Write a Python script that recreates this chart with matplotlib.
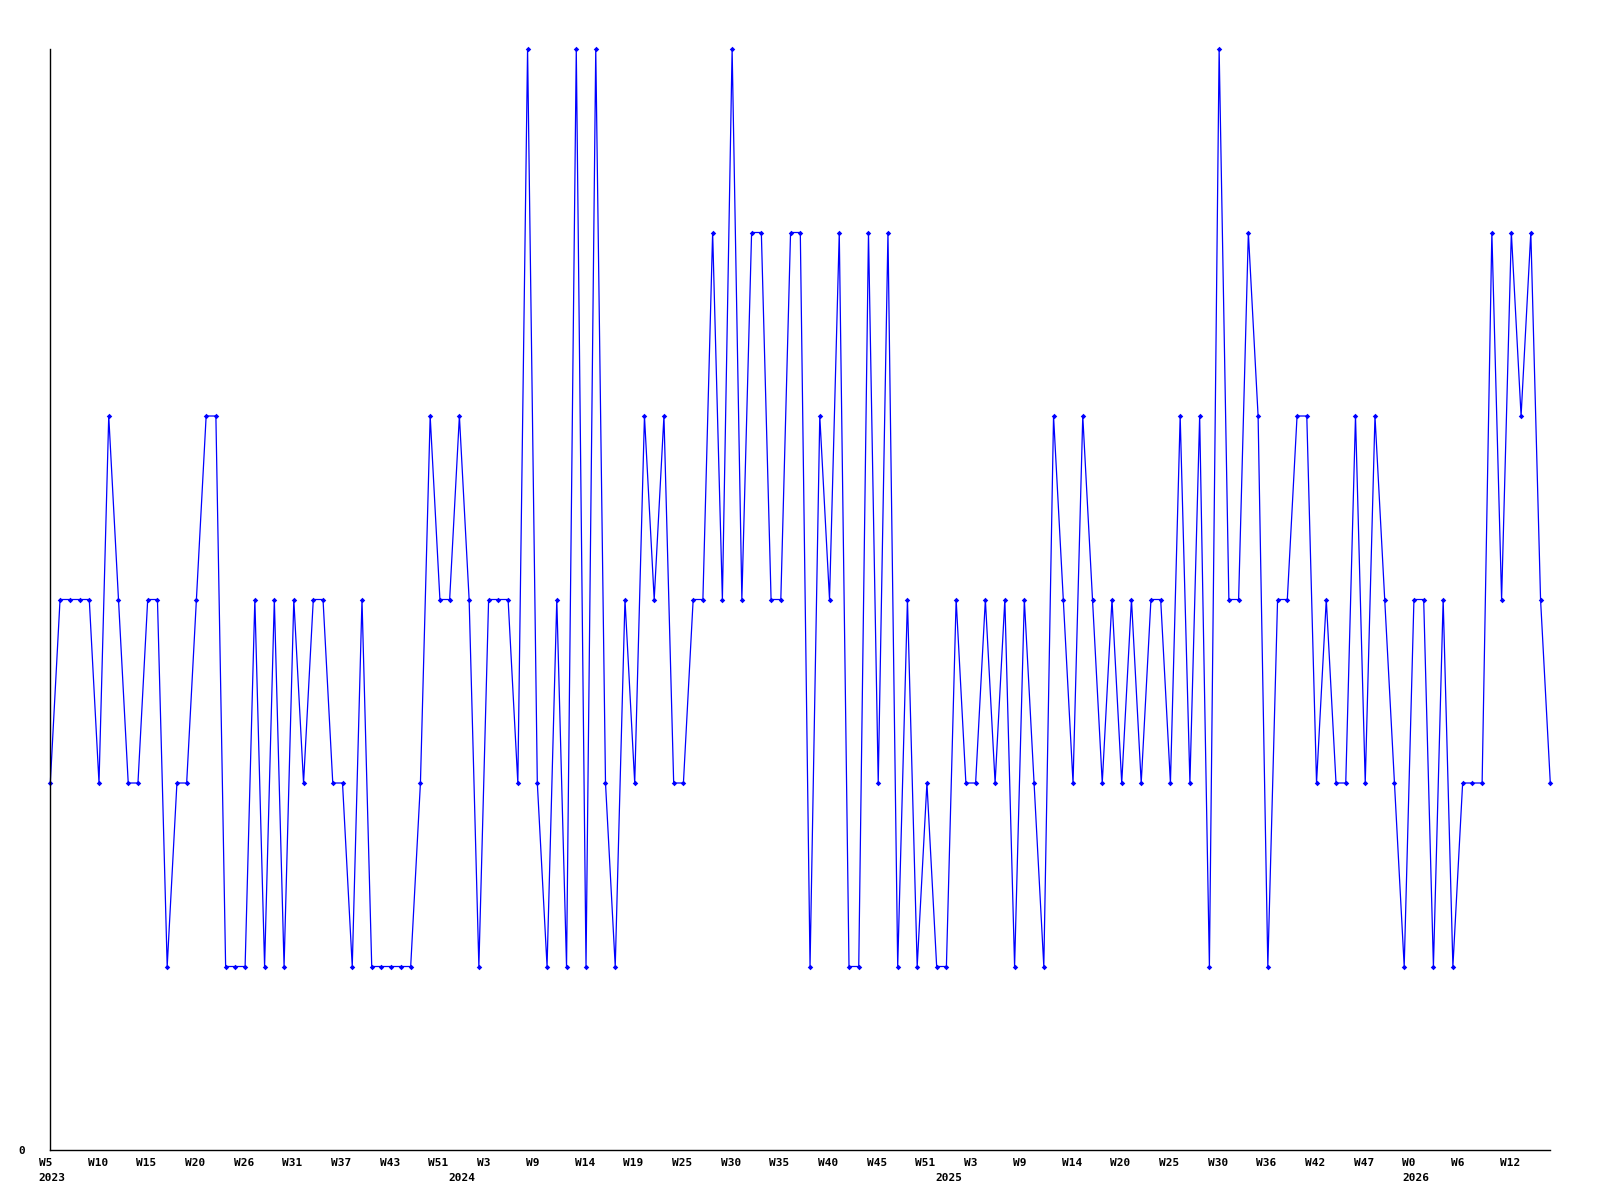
import matplotlib
matplotlib.use("Agg")
import matplotlib.pyplot as plt
from matplotlib.transforms import ScaledTranslation

# weekly values, one per point (2023 W5 .. 2026 W14)
values = [
    2, 3, 3, 3, 3, 2, 4, 3, 2, 2, 3, 3, 1, 2, 2, 3, 4, 4, 1, 1,
    1, 3, 1, 3, 1, 3, 2, 3, 3, 2, 2, 1, 3, 1, 1, 1, 1, 1, 2, 4,
    3, 3, 4, 3, 1, 3, 3, 3, 2, 6, 2, 1, 3, 1, 6, 1, 6, 2, 1, 3,
    2, 4, 3, 4, 2, 2, 3, 3, 5, 3, 6, 3, 5, 5, 3, 3, 5, 5, 1, 4,
    3, 5, 1, 1, 5, 2, 5, 1, 3, 1, 2, 1, 1, 3, 2, 2, 3, 2, 3, 1,
    3, 2, 1, 4, 3, 2, 4, 3, 2, 3, 2, 3, 2, 3, 3, 2, 4, 2, 4, 1,
    6, 3, 3, 5, 4, 1, 3, 3, 4, 4, 2, 3, 2, 2, 4, 2, 4, 3, 2, 1,
    3, 3, 1, 3, 1, 2, 2, 2, 5, 3, 5, 4, 5, 3, 2,
]

# week labels shown on every 5th point
week_labels = [
    "W5", "W10", "W15", "W20", "W26", "W31", "W37", "W43", "W51", "W3", "W9",
    "W14", "W19", "W25", "W30", "W35", "W40", "W45", "W51", "W3", "W9",
    "W14", "W20", "W25", "W30", "W36", "W42", "W47", "W0", "W6", "W12",
]
year_labels = ["2023", "2024", "2025", "2026"]
year_points = [0, 42, 92, 140]

x = list(range(len(values)))
week_points = x[::5][:len(week_labels)]

fig = plt.figure(figsize=(16, 12), dpi=100)
ax = fig.add_axes([50.3 / 1600, 50 / 1200, 1500 / 1600, 1101 / 1200])

ax.plot(x, values, color="#0000ff", lw=0.9, marker="D", ms=2.8,
        mew=0, clip_on=False)

ax.set_xlim(0, len(values) - 1)
ax.set_ylim(0, 6)
for s in ("top", "right"):
    ax.spines[s].set_visible(False)
for s in ("left", "bottom"):
    ax.spines[s].set_linewidth(1.0)
    ax.spines[s].set_color("black")

font = dict(family="DejaVu Sans Mono", size=8, weight="bold")
ax.xaxis.remove_overlapping_locs = False
ax.set_xticks(week_points, week_labels, **font)
ax.set_xticks(year_points, year_labels, minor=True, **font)
ax.tick_params(axis="x", which="major", length=0, pad=6)
ax.tick_params(axis="x", which="minor", length=0, pad=16.5)
shift = ScaledTranslation(-11.5 / 100, 0, fig.dpi_scale_trans)
for lab in ax.get_xticklabels(which="both"):
    lab.set_horizontalalignment("left")
    lab.set_transform(lab.get_transform() + shift)

ax.set_yticks([0], ["0"], **font)
ax.tick_params(axis="y", length=0, pad=18)

fig.savefig("out.png", dpi=100)
